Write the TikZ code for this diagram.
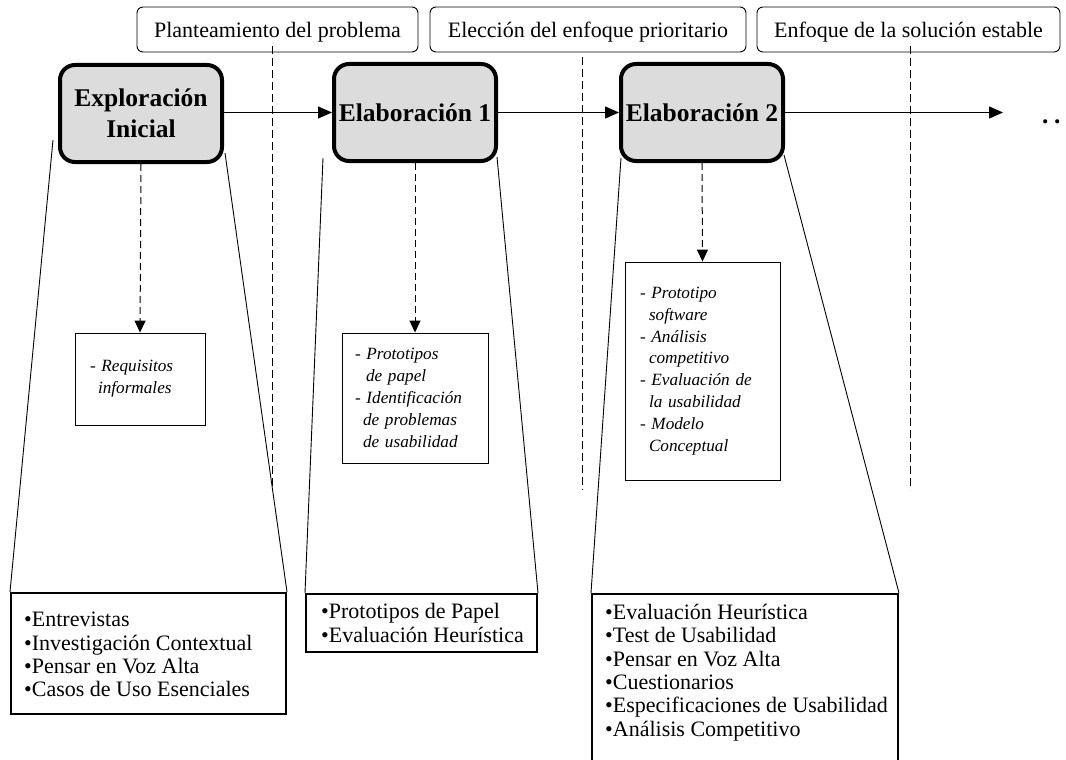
\documentclass[tikz,border=0pt]{standalone}
\usepackage{fontspec}
\setmainfont{Liberation Serif}
\usetikzlibrary{arrows.meta}
\definecolor{boxgray}{RGB}{220,220,220}
\begin{document}
\begin{tikzpicture}[x=1pt,y=-1pt,
  hdr/.style={draw, rounded corners=6pt, line width=0.9pt, inner sep=0pt,
    font=\fontsize{22}{22.5}\selectfont, text height=20pt, text depth=3pt,
    minimum height=45pt},
  phase/.style={draw, rounded corners=15pt, line width=4pt, fill=boxgray,
    font=\bfseries\fontsize{25.5}{31}\selectfont, align=center, inner sep=0pt,
    minimum width=162pt, minimum height=97pt},
  detail/.style={draw, line width=0.9pt, align=left, inner ysep=0pt,
    font=\itshape\fontsize{17.2}{21.8}\selectfont},
  bottombox/.style={draw, line width=2pt, inner sep=0pt},
  bottomtext/.style={align=left, inner sep=0pt, font=\fontsize{22}{23.3}\selectfont},
  flow/.style={line width=1.2pt, -{Triangle[length=14pt,width=12pt]}},
  down/.style={line width=1pt, dash pattern=on 7pt off 4pt, -{Triangle[length=12pt,width=11pt]}},
  phaseline/.style={line width=0.9pt, dash pattern=on 8pt off 4pt},
  side/.style={line width=0.9pt}
]
\useasboundingbox (0,0) rectangle (1066,760);

% header boxes
\node[hdr, minimum width=281pt] (h1) at (277.5,29.5) {Planteamiento del problema};
\node[hdr, minimum width=316pt] (h2) at (588,29.5) {Elección del enfoque prioritario};
\node[hdr, minimum width=303pt] (h3) at (908.5,29.5) {Enfoque de la solución estable};

% phase separators
\coordinate (s1t) at (272,46); \coordinate (s1b) at (272,490);
\coordinate (s2t) at (582,57); \coordinate (s2b) at (582,490);
\coordinate (s3t) at (910,46); \coordinate (s3b) at (910,490);
\draw[phaseline] (s1t) -- (s1b);
\draw[phaseline] (s2t) -- (s2b);
\draw[phaseline] (s3t) -- (s3b);

% phase boxes
\node[phase] (pa) at (141,113.5) {Exploración\\Inicial};
\node[phase] (pb) at (415,112.5) {Elaboración 1};
\node[phase] (pc) at (702,112.5) {Elaboración 2};
\coordinate (pend) at (1003,112.5);
\node[anchor=base west, inner sep=0pt, font=\bfseries\fontsize{25.5}{31}\selectfont] (dots) at (1042,124) {.\hspace{5.5pt}.\hspace{5.5pt}.};

\draw[flow] (pa.east |- pb) -- (pb);
\draw[flow] (pb) -- (pc);
\draw[flow] (pc) -- (pend);

% detail boxes
\node[detail, inner xsep=15pt, text width=100pt, minimum height=92pt] (da) at (140,379)
  {- Requisitos\\\hspace*{8pt}informales};
\node[detail, inner xsep=13pt, text width=120pt, minimum height=130pt] (db) at (415,398)
  {- Prototipos\\\hspace*{11pt}de papel\\- Identificación\\\hspace*{8pt}de problemas\\\hspace*{8pt}de usabilidad};
\node[detail, inner xsep=15pt, text width=125pt, minimum height=218pt] (dc) at (702.5,371)
  {- Prototipo\\\hspace*{9pt}software\\- Análisis\\\hspace*{9pt}competitivo\\- Evaluación de\\\hspace*{9pt}la usabilidad\\- Modelo\\\hspace*{9pt}Conceptual};

\draw[down] (pa.south) -- (da.north);
\draw[down] (pb.south) -- (db.north);
\draw[down] (pc.south) -- (dc.north);

% bottom boxes
\node[bottombox, minimum width=275pt, minimum height=121pt] (ba) at (148.5,653.5) {};
\node[bottomtext, anchor=west] (batext) at ([xshift=14pt,yshift=-1pt]ba.west)
  {•Entrevistas\\•Investigación Contextual\\•Pensar en Voz Alta\\•Casos de Uso Esenciales};
\node[bottombox, minimum width=231pt, minimum height=58pt] (bb) at (421.5,623) {};
\node[bottomtext, anchor=west] (bbtext) at ([xshift=16pt]bb.west)
  {•Prototipos de Papel\\•Evaluación Heurística};
\node[bottombox, minimum width=306pt, minimum height=190pt, anchor=north west] (bc) at (591,593) {};
\node[bottomtext, anchor=north west] (bctext) at ([xshift=14pt,yshift=-11pt]bc.north west)
  {•Evaluación Heurística\\•Test de Usabilidad\\•Pensar en Voz Alta\\•Cuestionarios\\•Especificaciones de Usabilidad\\•Análisis Competitivo};

% funnel sides
\coordinate (al) at (53,140); \coordinate (ar) at (225,153);
\coordinate (bl) at (323,158); \coordinate (br) at (497,157);
\coordinate (cl) at (621,158); \coordinate (cr) at (784,155);
\draw[side] (al) -- (ba.north west);
\draw[side] (ar) -- (ba.north east);
\draw[side] (bl) -- (bb.north west);
\draw[side] (br) -- (bb.north east);
\draw[side] (cl) -- (bc.north west);
\draw[side] (cr) -- (bc.north east);
\end{tikzpicture}
\end{document}
